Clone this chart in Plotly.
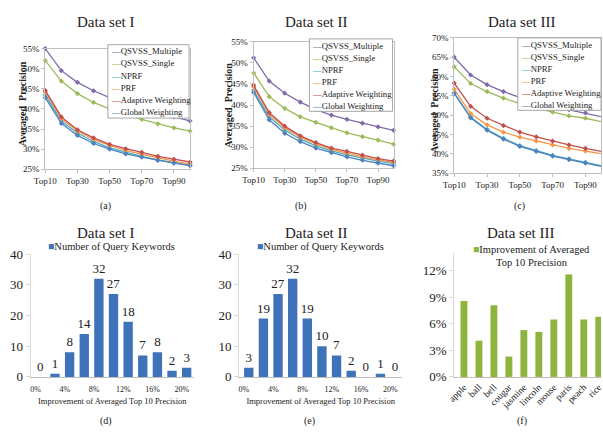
import plotly.graph_objects as go

W, H = 603, 438
FONT = "Liberation Serif"

# ---------------- data ----------------
top_cats = ["Top10", "Top20", "Top30", "Top40", "Top50", "Top60", "Top70", "Top80", "Top90", "Top100"]
series_names = ["QSVSS_Multiple", "QSVSS_Single", "NPRF", "PRF", "Adaptive Weighting", "Global Weighting"]

ds1_multiple = [55.0, 49.5, 46.6, 44.5, 42.8, 41.3, 40.0, 39.0, 38.0, 37.0]
ds1_single   = [52.0, 46.9, 43.8, 41.6, 40.0, 38.6, 37.4, 36.3, 35.3, 34.5]
ds1_nprf     = [43.5, 37.0, 34.0, 31.9, 30.3, 29.2, 28.2, 27.3, 26.6, 26.0]
ds1_prf      = [44.2, 37.6, 34.5, 32.4, 30.9, 29.7, 28.7, 27.8, 27.0, 26.3]
ds1_adaptive = [44.6, 38.0, 34.8, 32.8, 31.2, 30.1, 29.2, 28.2, 27.5, 26.8]
ds1_global   = [42.8, 36.4, 33.4, 31.4, 30.0, 28.8, 28.0, 27.2, 26.5, 25.9]

ds2_multiple = [51.2, 45.7, 42.8, 40.7, 38.9, 37.6, 36.6, 35.7, 34.8, 34.0]
ds2_single   = [47.6, 42.0, 39.2, 37.2, 35.9, 34.6, 33.4, 32.5, 31.7, 30.7]
ds2_nprf     = [43.5, 37.2, 34.1, 31.9, 30.3, 29.1, 28.2, 27.4, 26.7, 26.1]
ds2_prf      = [44.3, 37.8, 34.6, 32.4, 30.8, 29.5, 28.6, 27.7, 27.0, 26.4]
ds2_adaptive = [44.7, 38.2, 35.0, 32.7, 31.1, 29.8, 29.0, 28.1, 27.3, 26.7]
ds2_global   = [43.0, 36.5, 33.3, 31.3, 29.8, 28.7, 27.7, 26.9, 26.2, 25.6]

ds3_multiple = [65.0, 60.4, 57.9, 56.1, 54.6, 53.3, 52.3, 51.4, 50.6, 49.6]
ds3_single   = [62.5, 58.2, 56.1, 54.4, 53.0, 51.8, 50.8, 49.8, 49.2, 48.3]
ds3_nprf     = [55.8, 49.5, 46.3, 44.0, 42.1, 40.8, 39.6, 38.7, 37.8, 36.9]
ds3_prf      = [56.7, 50.4, 47.5, 45.6, 44.3, 43.3, 42.3, 41.4, 40.7, 40.0]
ds3_adaptive = [58.3, 52.3, 49.2, 47.3, 45.6, 44.4, 43.3, 42.3, 41.4, 40.6]
ds3_global   = [55.6, 49.3, 46.1, 43.8, 41.9, 40.6, 39.4, 38.5, 37.6, 36.7]

impr_cats = ["0%", "2%", "4%", "6%", "8%", "10%", "12%", "14%", "16%", "18%", "20%"]
ds1_keywords = [0, 1, 8, 14, 32, 27, 18, 7, 8, 2, 3]
ds2_keywords = [3, 19, 27, 32, 19, 10, 7, 2, 0, 1, 0]

ds3_words = ["apple", "ball", "bell", "cougar", "jasmine", "lincoln", "mouse", "paris", "peach", "rice"]
ds3_improvement = [8.6, 4.1, 8.1, 2.3, 5.3, 5.1, 6.5, 11.6, 6.5, 6.8]

series_colors = ["#7F6AA8", "#9BBB59", "#4BACC6", "#F79646", "#C0504D", "#4F81BD"]
BLUE_BAR = "#3E73BA"
GREEN_BAR = "#8DB43E"
AXIS_GRAY = "#BFBFBF"
TEXT = "#222222"

line_sets = [
    [ds1_multiple, ds1_single, ds1_nprf, ds1_prf, ds1_adaptive, ds1_global],
    [ds2_multiple, ds2_single, ds2_nprf, ds2_prf, ds2_adaptive, ds2_global],
    [ds3_multiple, ds3_single, ds3_nprf, ds3_prf, ds3_adaptive, ds3_global],
]

fig = go.Figure()


def xdom(a, b):
    return [a / W, min(b / W, 1.0)]


def ydom(top, bottom):
    return [1 - bottom / H, 1 - top / H]


# ---------------- top line panels ----------------
top_panels = [
    dict(xd=(35, 183), yd=(43, 168), yr=(0.25, 0.55), xr=(0, 9)),
    dict(xd=(248, 391), yd=(36, 167), yr=(0.25, 0.55), xr=(0, 9)),
    dict(xd=(453, 603), yd=(32, 172), yr=(0.35, 0.70), xr=(0, 8.95)),
]
x_idx = list(range(len(top_cats)))
for p, (panel, sets) in enumerate(zip(top_panels, line_sets)):
    n = p + 1
    xa = "x" if n == 1 else f"x{n}"
    ya = "y" if n == 1 else f"y{n}"
    for name, vals, col in zip(series_names, sets, series_colors):
        fig.add_trace(go.Scatter(
            x=x_idx, y=[v / 100 for v in vals], name=name, mode="lines+markers",
            line=dict(color=col, width=1.3), marker=dict(symbol="diamond", size=4, color=col),
            xaxis=xa, yaxis=ya, showlegend=False, cliponaxis=False))
    key = "" if n == 1 else str(n)
    fig.layout["xaxis" + key] = dict(
        domain=xdom(*panel["xd"]), range=list(panel["xr"]), anchor=ya,
        tickvals=x_idx[::2], ticktext=top_cats[::2], showgrid=False, zeroline=False,
        showline=True, mirror=True, linecolor=AXIS_GRAY, linewidth=1,
        ticks="outside", ticklen=3, tickcolor=AXIS_GRAY,
        tickfont=dict(family=FONT, size=9, color=TEXT))
    fig.layout["yaxis" + key] = dict(
        domain=ydom(*panel["yd"]), range=list(panel["yr"]), anchor=xa,
        dtick=0.05, tickformat=".0%", showgrid=False, zeroline=False,
        showline=True, mirror=True, linecolor=AXIS_GRAY, linewidth=1,
        ticks="outside", ticklen=3, tickcolor=AXIS_GRAY,
        tickfont=dict(family=FONT, size=9, color=TEXT))

# ---------------- bottom bar panels ----------------
bar_idx = list(range(len(impr_cats)))
bottom_bar = [
    dict(n=4, xd=(20, 187), vals=ds1_keywords),
    dict(n=5, xd=(233, 400), vals=ds2_keywords),
]
for b in bottom_bar:
    n = b["n"]
    fig.add_trace(go.Bar(
        x=bar_idx, y=b["vals"], width=0.64, marker=dict(color=BLUE_BAR, line=dict(width=0)),
        text=[str(v) for v in b["vals"]], textposition="outside", cliponaxis=False,
        constraintext="none",
        textfont=dict(family=FONT, size=13, color=TEXT),
        outsidetextfont=dict(family=FONT, size=13, color=TEXT),
        xaxis=f"x{n}", yaxis=f"y{n}", showlegend=False, name="Number of Query Keywords"))
    fig.layout[f"xaxis{n}"] = dict(
        domain=xdom(*b["xd"]), range=[-0.67, 10.5], anchor=f"y{n}",
        tickvals=[i - 0.33 for i in bar_idx[::2]], ticktext=impr_cats[::2],
        showgrid=False, zeroline=False, showline=True, linecolor=AXIS_GRAY,
        ticks="", ticklabelstandoff=5, tickfont=dict(family=FONT, size=8, color=TEXT),
        title=dict(text="Improvement of Averaged Top 10 Precision",
                   font=dict(family=FONT, size=8.5, color=TEXT), standoff=4))
    fig.layout[f"yaxis{n}"] = dict(
        domain=ydom(256, 383), range=[0, 40], dtick=10, anchor=f"x{n}",
        showgrid=False, zeroline=False, showline=True, linecolor="#D9D9D9",
        ticks="outside", ticklen=4, tickcolor="#D9D9D9",
        tickfont=dict(family=FONT, size=13, color=TEXT))

fig.add_trace(go.Bar(
    x=ds3_words, y=[v / 100 for v in ds3_improvement], width=0.46,
    marker=dict(color=GREEN_BAR, line=dict(width=0)),
    xaxis="x6", yaxis="y6", showlegend=False, name="Improvement of Averaged Top 10 Precision"))
fig.layout["xaxis6"] = dict(
    domain=xdom(453, 603), range=[-0.65, 9.15], anchor="y6", type="category",
    showgrid=False, zeroline=False, showline=True, linecolor=AXIS_GRAY,
    ticks="", tickangle=-45, tickfont=dict(family=FONT, size=9.5, color=TEXT))
fig.layout["yaxis6"] = dict(
    domain=ydom(255, 383), range=[0, 0.14], tickvals=[0, 0.03, 0.06, 0.09, 0.12],
    tickformat=".0%", anchor="x6", showgrid=False, zeroline=False,
    showline=True, linecolor="#D9D9D9", ticks="outside", ticklen=4, tickcolor="#D9D9D9",
    tickfont=dict(family=FONT, size=13, color=TEXT))

# ---------------- text, legends, boxes ----------------
ann = []
shapes = []


def text(x, y, s, size, **kw):
    d = dict(x=x / W, y=1 - y / H, xref="paper", yref="paper", text=s, showarrow=False,
             font=dict(family=FONT, size=size, color=kw.pop("color", TEXT)),
             xanchor=kw.pop("xanchor", "center"), yanchor="middle")
    d.update(kw)
    ann.append(d)


titles = ["Data set I", "Data set II", "Data set III"]
for t, x in zip(titles, [97, 312, 522]):
    text(x, 16, t, 15)
for t, x in zip(titles, [97, 312, 521]):
    text(x, 234, t, 15)
for s, x, y in [("(a)", 97, 206), ("(b)", 296, 206), ("(c)", 520, 206),
                ("(d)", 97, 429), ("(e)", 305, 429), ("(f)", 522, 429)]:
    text(x, y, s, 10)
for x, y in [(12, 100), (222, 102), (433, 107)]:
    text(x, y, "<b>Averaged  Precision</b>", 10, textangle=-90)

legend_boxes = [(99, 39, 182, 115), (305, 33, 390, 108), (518, 32, 603, 107)]
legend_rows = [[46, 58.5, 71, 83.5, 96, 108.5], [40, 52.5, 65, 77.5, 90, 102.5], [39, 51.5, 64, 76.5, 89, 101.5]]
for (x0, y0, x1, y1), rows in zip(legend_boxes, legend_rows):
    shapes.append(dict(type="rect", xref="paper", yref="paper", x0=x0 / W, x1=x1 / W,
                       y0=1 - y1 / H, y1=1 - y0 / H, fillcolor="white",
                       line=dict(color="#A6A6A6", width=1), layer="above"))
    for name, col, yy in zip(series_names, series_colors, rows):
        text(x0 + 1, yy, f"<span style='color:{col}'>—</span>{name}", 8.7, xanchor="left")

text(103, 248, f"<span style='color:{BLUE_BAR}'>■</span>Number of Query Keywords", 10.5)
text(316, 248, f"<span style='color:{BLUE_BAR}'>■</span>Number of Query Keywords", 10.5)
text(532, 251, f"<span style='color:{GREEN_BAR}'>■</span>Improvement of Averaged", 10.5)
text(532, 265, "Top 10 Precision", 10.5)

fig.update_layout(
    width=W, height=H, margin=dict(l=0, r=0, t=0, b=0),
    paper_bgcolor="white", plot_bgcolor="white",
    annotations=ann, shapes=shapes, showlegend=False,
    font=dict(family=FONT, color=TEXT))

fig.write_html("out.html", config={"displayModeBar": False},
               post_script="document.body.style.margin='0px';")
